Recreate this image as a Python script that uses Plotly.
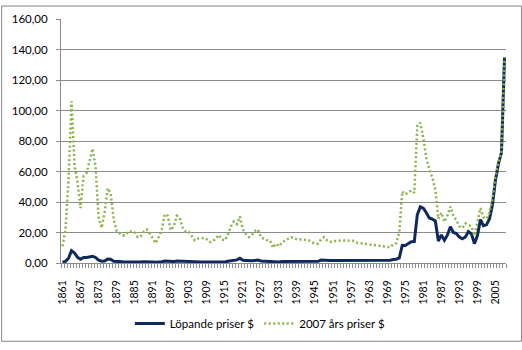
import plotly.graph_objects as go

years = list(range(1861, 2009))

lopande = [
    0.49, 1.05, 3.15, 8.06, 6.59, 3.74, 2.41, 3.63, 3.64, 3.86,   # 1861-1870
    4.34, 3.64, 1.83, 1.17, 1.35, 2.56, 2.42, 1.19, 0.86, 0.95,   # 1871-1880
    0.86, 0.78, 1.00, 0.84, 0.88, 0.71, 0.67, 0.88, 0.94, 0.87,   # 1881-1890
    0.67, 0.56, 0.64, 0.84, 1.36, 1.18, 0.79, 0.91, 1.29, 1.19,   # 1891-1900
    0.96, 0.80, 0.94, 0.86, 0.62, 0.73, 0.72, 0.72, 0.70, 0.61,   # 1901-1910
    0.61, 0.74, 0.95, 0.81, 0.64, 1.10, 1.56, 1.98, 2.01, 3.07,   # 1911-1920
    1.73, 1.61, 1.34, 1.43, 1.68, 1.88, 1.30, 1.17, 1.27, 1.19,   # 1921-1930
    0.65, 0.87, 0.67, 1.00, 0.97, 1.09, 1.18, 1.13, 1.02, 1.02,   # 1931-1940
    1.14, 1.19, 1.20, 1.21, 1.05, 1.12, 1.90, 1.99, 1.71, 1.71,   # 1941-1950
    1.71, 1.71, 1.93, 1.93, 1.93, 1.93, 1.90, 2.08, 1.90, 1.80,   # 1951-1960
    1.80, 1.80, 1.80, 1.80, 1.80, 1.80, 1.80, 1.80, 1.80, 1.80,   # 1961-1970
    2.24, 2.48, 3.29, 11.58, 11.53, 12.80, 13.92, 14.02, 31.61, 36.83,  # 1971-1980
    35.93, 32.97, 29.55, 28.78, 27.56, 14.43, 18.44, 14.92, 18.23, 23.73,  # 1981-1990
    20.00, 19.32, 16.97, 15.82, 17.02, 20.67, 19.09, 12.72, 17.97, 28.50,  # 1991-2000
    24.44, 25.02, 28.83, 38.27, 54.52, 65.14, 72.39, 135.0,   # 2001-2008
]

priser_2007 = [
    11, 22, 55, 106, 64, 53, 36, 57, 59, 67,                      # 1861-1870
    75, 63, 30, 23, 33, 49, 46, 29, 21, 19.5,                     # 1871-1880
    18, 18.5, 21, 20.5, 20, 17, 17.5, 20.5, 22, 19.5,             # 1881-1890
    16, 13, 17, 22, 32, 31, 21.5, 24, 31, 29.5,                   # 1891-1900
    23, 20.5, 20.5, 17.5, 14.8, 16, 16.4, 16.4, 15.5, 13.8,       # 1901-1910
    14, 16.5, 18.3, 15.5, 14.8, 18.5, 24, 27.3, 25.5, 30.5,       # 1911-1920
    22, 19, 17, 18.5, 21, 22, 17, 15.8, 15, 14.8,                 # 1921-1930
    10, 12.7, 11, 13.5, 14.8, 16, 16.9, 16.4, 15.4, 15.4,         # 1931-1940
    15.5, 15, 14.8, 13.5, 12.7, 12.7, 15.5, 16.9, 14.8, 13.8,     # 1941-1950
    14.5, 14.5, 14.8, 14.8, 14.8, 14.8, 14.5, 14.5, 13.3, 13.0,   # 1951-1960
    12.8, 12.5, 12.3, 12.0, 11.6, 11.3, 11.1, 10.7, 10.5, 10.3,   # 1961-1970
    12.3, 13.0, 20, 47, 45, 46.5, 47.5, 46, 90, 92,               # 1971-1980
    82, 69, 61, 56, 48, 29, 33, 27, 31, 37,                       # 1981-1990
    31, 28, 24, 23, 26, 25, 24, 18, 27, 36,                       # 1991-2000
    30, 29, 33, 42, 57, 66, 72.4, 135,                            # 2001-2008
]

tick_years = list(range(1861, 2006, 6))
y_ticks = [0, 20, 40, 60, 80, 100, 120, 140, 160]

W, H = 522, 350
L, R, T, B = 60, 16, 14, 82
pw, ph = W - L - R, H - T - B

fig = go.Figure()
fig.add_trace(go.Scatter(
    x=years, y=lopande, mode="lines", name="Löpande priser $",
    line=dict(color="#10295C", width=3),
))
fig.add_trace(go.Scatter(
    x=years, y=priser_2007, mode="lines", name="2007 års priser $",
    line=dict(color="#8DB348", width=2.5, dash="2px,2.5px"),
))

grid = "#8C8C8C"
fig.update_layout(
    width=W, height=H,
    margin=dict(l=L, r=R, t=T, b=B),
    paper_bgcolor="white", plot_bgcolor="white",
    font=dict(family="Lato, Carlito, Calibri, sans-serif", size=11, color="black"),
    separators=", ",
    showlegend=True,
    legend=dict(orientation="h", x=0.448, xanchor="center", y=-0.248, yanchor="middle",
                font=dict(size=11.5), bgcolor="rgba(0,0,0,0)"),
    xaxis=dict(
        range=[1860.5, 2008.5], tickmode="array", tickvals=tick_years,
        ticktext=[str(v) for v in tick_years], tickangle=-90,
        ticks="outside", ticklen=12, tickcolor="rgba(0,0,0,0)",
        tickfont=dict(size=10.5),
        showgrid=False, zeroline=False,
        showline=True, linecolor=grid, linewidth=1,
        minor=dict(ticks="outside", tick0=1860.5, dtick=1, ticklen=4, tickcolor=grid, tickwidth=1),
    ),
    yaxis=dict(
        range=[0, 160], tickmode="array", tickvals=y_ticks, tickformat=".2f",
        ticks="outside", ticklen=4, tickcolor=grid,
        ticklabelstandoff=6,
        tickfont=dict(size=11.5),
        showgrid=True, gridcolor=grid, gridwidth=1, zeroline=False,
        showline=True, linecolor=grid, linewidth=1,
    ),
    shapes=[dict(
        type="rect", xref="paper", yref="paper",
        x0=(0.5 - L) / pw, x1=(W - 0.5 - L) / pw,
        y0=(ph - (H - T - 0.5)) / ph, y1=(ph + T - 0.5) / ph,
        line=dict(color="#868686", width=1), fillcolor="rgba(0,0,0,0)", layer="below",
    )],
)

fig.write_html("out.html")
